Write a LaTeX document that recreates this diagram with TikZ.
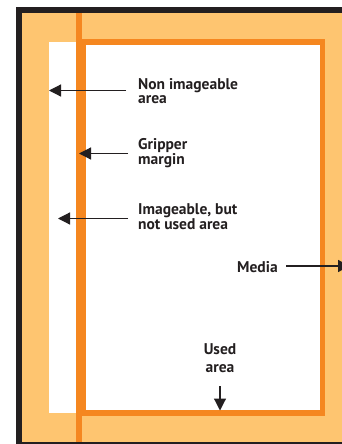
\documentclass[tikz,border=0pt]{standalone}
\usepackage{fontspec}
\setmainfont{PT Sans}
\usetikzlibrary{arrows.meta}
\definecolor{lightor}{HTML}{FEC570}
\definecolor{deepor}{HTML}{F58720}
\definecolor{ink}{HTML}{231F20}
\newcommand\lblfont[1]{\bfseries\fontsize{15.5}{#1}\selectfont}
\begin{document}
\begin{tikzpicture}[x=1pt,y=-1pt,
  lbl/.style={text=ink,inner sep=0pt,align=left,anchor=base west},
  ptr/.style={draw=ink,line width=1.2pt,-{Triangle[length=12pt,width=12pt]}}]
\useasboundingbox (0,0) rectangle (342,444);
\clip (0,0) rectangle (342,444);
\fill[white] (0,0) rectangle (342,444);
% press frame
\fill[ink] (16,7) rectangle (360,452);
\fill[lightor] (21.5,13) rectangle (354,441.7);
% non imageable white strip
\fill[white] (49,42) rectangle (76,413.3);
% gripper margin line
\fill[deepor] (76,13) rectangle (82,441.7);
% media
\draw[deepor,line width=5.5pt,fill=white] (83.2,42) rectangle (322.5,413);
% labels (anchored at the baseline of the last line)
\node[lbl,font=\lblfont{14}] (nonimg) at (138,103.3) {Non imageable\\area};
\node[lbl,font=\lblfont{13.7}] (grip) at (138,164.7) {Gripper\\margin};
\node[lbl,font=\lblfont{15}] (imgbl) at (138,229.3) {Imageable, but\\not used area};
\node[lbl,font=\lblfont{15}] (media) at (237,272.7) {Media};
\node[lbl,align=center,anchor=base,font=\lblfont{18.4}] (used) at (220,372.7) {Used\\area};
% arrow ends
\coordinate (t1) at (126,90.5);   \coordinate (h1) at (49,90.5);
\coordinate (t2) at (128,153.5);  \coordinate (h2) at (79,153.5);
\coordinate (t3) at (128,218.5);  \coordinate (h3) at (58,218.5);
\coordinate (t4) at (286,266);    \coordinate (h4) at (350,266);
\coordinate (t5) at (220,386);    \coordinate (h5) at (220,410.5);
\draw[ptr] (t1) -- (h1);
\draw[ptr] (t2) -- (h2);
\draw[ptr] (t3) -- (h3);
\draw[ptr] (t4) -- (h4);
\draw[ptr] (t5) -- (h5);
\end{tikzpicture}
\end{document}
